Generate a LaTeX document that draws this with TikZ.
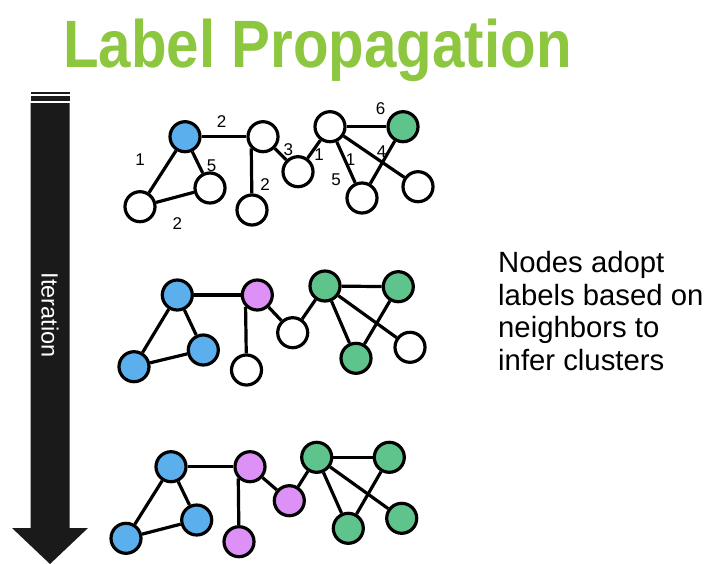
\documentclass[tikz,border=0pt]{standalone}
\usepackage{fontspec}
\setmainfont{Liberation Sans}
\definecolor{titlegreen}{RGB}{141,198,63}
\definecolor{nodeblue}{RGB}{92,175,237}
\definecolor{nodepurple}{RGB}{221,144,246}
\definecolor{nodegreen}{RGB}{94,196,140}
\definecolor{arrowfill}{RGB}{26,26,26}
\begin{document}
\begin{tikzpicture}[x=1pt,y=-1pt,
  vtx/.style={circle,draw=black,line width=3.2pt,minimum size=30pt,inner sep=0pt,fill=white},
  blu/.style={vtx,fill=nodeblue},
  pur/.style={vtx,fill=nodepurple},
  grn/.style={vtx,fill=nodegreen},
  link/.style={line width=3.2pt},
  wt/.style={font=\fontsize{17}{17}\selectfont,inner sep=0pt}
]
\useasboundingbox (0,0) rectangle (711,563);

% title
\node[anchor=base,text=titlegreen,inner sep=0pt,
      font=\fontsize{67}{67}\selectfont\bfseries] (title) at (317.5,67)
  {\scalebox{0.87}[1]{Label Propagation}};

% iteration arrow
\fill[arrowfill] (30.5,91.5) rectangle (69.5,94);
\fill[arrowfill] (30.5,96) rectangle (69.5,100.5);
\fill[arrowfill] (30.5,103) -- (69.5,103) -- (69.5,528) -- (88,528)
  -- (50,564) -- (12,528) -- (30.5,528) -- cycle;
\node[rotate=-90,text=white,inner sep=0pt,font=\fontsize{23.5}{23.5}\selectfont]
  (iter) at (50,315) {Iteration};

% caption
\node[anchor=north west,align=left,inner sep=0pt,
      font=\fontsize{29.3}{32.7}\selectfont] (caption) at (498,251)
  {Nodes adopt\\labels based on\\neighbors to\\infer clusters};

% ---- initial graph with edge weights ----
\node[blu] (a1) at (185,136.7) {};
\node[vtx] (b1) at (140,206.7) {};
\node[vtx] (c1) at (210,188) {};
\node[vtx] (d1) at (263,136.7) {};
\node[vtx] (e1) at (252,210) {};
\node[vtx] (f1) at (298,171.7) {};
\node[vtx] (g1) at (330,126.7) {};
\node[grn] (h1) at (403,126.7) {};
\node[vtx] (i1) at (362,198) {};
\node[vtx] (j1) at (418,186.7) {};
\draw[link] (a1) -- (d1);
\draw[link] (a1) -- (b1);
\draw[link] (a1) -- (c1);
\draw[link] (b1) -- (c1);
\draw[link] (e1) -- (d1.225);
\draw[link] (d1) -- (f1);
\draw[link] (f1) -- (g1);
\draw[link] (g1) -- (h1);
\draw[link] (g1) -- (i1);
\draw[link] (g1) -- (j1);
\draw[link] (h1) -- (i1);
\node[wt] (w1) at (221.7,121.7) {2};
\node[wt] (w2) at (140,160) {1};
\node[wt] (w3) at (211.7,166) {5};
\node[wt] (w4) at (177.3,223.3) {2};
\node[wt] (w5) at (265,185) {2};
\node[wt] (w6) at (288.3,149.3) {3};
\node[wt] (w7) at (319,155) {1};
\node[wt] (w8) at (380.7,108.3) {6};
\node[wt] (w9) at (350.7,160) {1};
\node[wt] (w10) at (381.7,151.7) {4};
\node[wt] (w11) at (336,180) {5};

% ---- after one round ----
\node[blu] (a2) at (177.3,295) {};
\node[blu] (b2) at (134,366.7) {};
\node[blu] (c2) at (203.3,350) {};
\node[pur] (d2) at (257.3,295) {};
\node[vtx] (e2) at (246.5,370) {};
\node[vtx] (f2) at (292.7,332.7) {};
\node[grn] (g2) at (325,286) {};
\node[grn] (h2) at (398.3,286.7) {};
\node[grn] (i2) at (356,358.3) {};
\node[vtx] (j2) at (410,347.3) {};
\draw[link] (a2) -- (d2);
\draw[link] (a2) -- (b2);
\draw[link] (a2) -- (c2);
\draw[link] (b2) -- (c2);
\draw[link] (e2) -- (d2.225);
\draw[link] (d2) -- (f2);
\draw[link] (f2) -- (g2);
\draw[link] (g2) -- (h2);
\draw[link] (g2) -- (i2);
\draw[link] (g2) -- (j2);
\draw[link] (h2) -- (i2);

% ---- converged ----
\node[blu] (a3) at (171,466.7) {};
\node[blu] (b3) at (126,538.3) {};
\node[blu] (c3) at (196.7,520) {};
\node[pur] (d3) at (250,466.7) {};
\node[pur] (e3) at (239,541.7) {};
\node[pur] (f3) at (289.3,500.7) {};
\node[grn] (g3) at (316.7,457.3) {};
\node[grn] (h3) at (389.3,457.3) {};
\node[grn] (i3) at (348.3,528.3) {};
\node[grn] (j3) at (401.7,518.3) {};
\draw[link] (a3) -- (d3);
\draw[link] (a3) -- (b3);
\draw[link] (a3) -- (c3);
\draw[link] (b3) -- (c3);
\draw[link] (e3) -- (d3.225);
\draw[link] (d3) -- (f3);
\draw[link] (f3) -- (g3);
\draw[link] (g3) -- (h3);
\draw[link] (g3) -- (i3);
\draw[link] (g3) -- (j3);
\draw[link] (h3) -- (i3);
\end{tikzpicture}
\end{document}
